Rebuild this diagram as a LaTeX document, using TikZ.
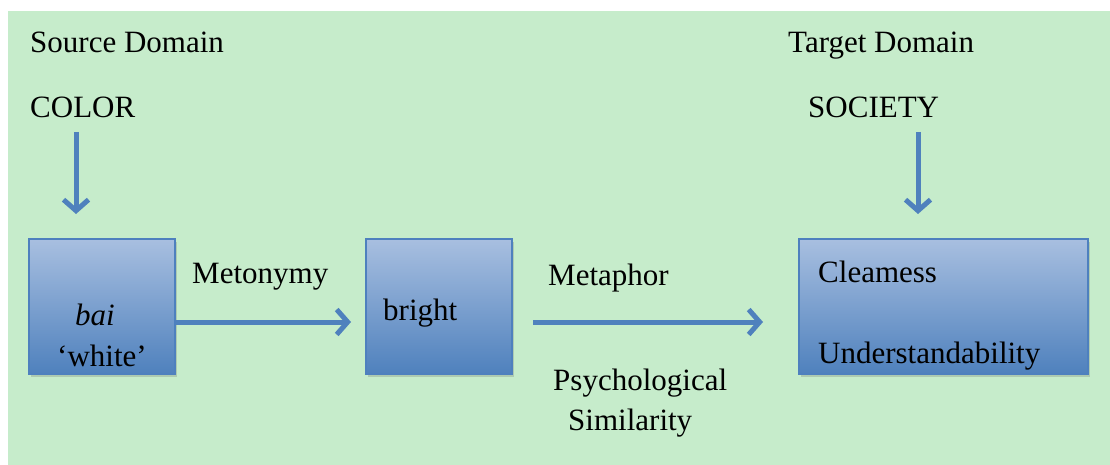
\documentclass[tikz,border=0pt]{standalone}
\usepackage{fontspec}
\setmainfont{Liberation Serif}
\usetikzlibrary{arrows.meta,shadows}
\definecolor{bggreen}{RGB}{198,236,203}
\definecolor{arrowblue}{RGB}{79,129,189}
\definecolor{boxtop}{RGB}{168,191,224}
\definecolor{boxbot}{RGB}{79,129,189}
\definecolor{boxedge}{RGB}{78,128,190}
\begin{document}
\begin{tikzpicture}[x=1pt,y=-1pt,
  lbl/.style={font=\fontsize{31}{36}\selectfont, inner sep=0pt, anchor=base west},
  conceptbox/.style={draw=boxedge, line width=1.5pt, top color=boxtop, bottom color=boxbot,
    inner sep=0pt, anchor=north west, minimum height=135pt,
    drop shadow={shadow xshift=2pt, shadow yshift=-3pt, opacity=0.25, fill=black!60}},
  flow/.style={draw=arrowblue, line width=5pt, -{Straight Barb[length=11pt,width=25pt]}}]

  % canvas and background
  \useasboundingbox (0,0) rectangle (1110,465);
  \fill[white] (0,0) rectangle (1110,465);
  \fill[bggreen] (8,11) rectangle (1110,465);

  % domain headings
  \node[lbl] (src) at (30,53) {Source Domain};
  \node[lbl] (tgt) at (788,53) {Target Domain};
  \node[lbl] (color) at (30,118) {COLOR};
  \node[lbl] (society) at (808,118) {SOCIETY};

  % concept boxes
  \node[conceptbox, minimum width=146pt] (bai) at (28,238) {};
  \node[conceptbox, minimum width=146pt] (bright) at (365,238) {};
  \node[conceptbox, minimum width=289pt] (social) at (798,238) {};

  % box texts
  \node[lbl, anchor=base] (baitxt) at (95,325) {\itshape bai};
  \node[lbl, anchor=base] (whitetxt) at (102,366) {‘white’};
  \node[lbl] (brighttxt) at (383,320) {bright};
  \node[lbl] (clear) at (818,282) {Cleamess};
  \node[lbl] (underst) at (818,363) {Understandability};

  % arrow labels
  \node[lbl] (metonymy) at (192,283) {Metonymy};
  \node[lbl] (metaphor) at (548,285) {Metaphor};
  \node[lbl] (psych) at (553,390) {Psychological};
  \node[lbl] (simil) at (568,430) {Similarity};

  % arrow end points
  \coordinate (colorTail) at (76,132);
  \coordinate (colorHead) at (76,214);
  \coordinate (socTail) at (918,132);
  \coordinate (socHead) at (918,214);
  \coordinate (metoHead) at (351,322);
  \coordinate (metaTail) at (533,322);
  \coordinate (metaHead) at (763,322);

  % arrows
  \draw[flow] (colorTail) -- (colorHead);
  \draw[flow] (socTail) -- (socHead);
  \draw[flow] (bai.east |- metoHead) -- (metoHead);
  \draw[flow] (metaTail) -- (metaHead);
\end{tikzpicture}
\end{document}
